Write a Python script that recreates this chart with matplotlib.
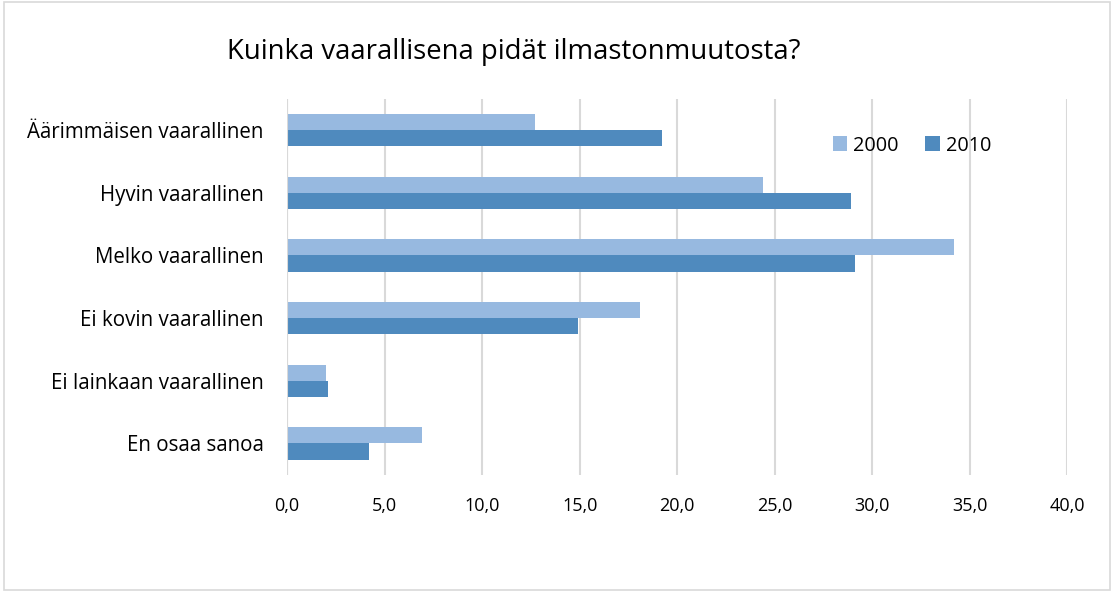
import numpy as np
import matplotlib
matplotlib.use("Agg")
import matplotlib.pyplot as plt
from matplotlib.patches import Rectangle

plt.rcParams['font.family'] = ['Open Sans', 'DejaVu Sans']

# Datos
categorias = ["Äärimmäisen vaarallinen", "Hyvin vaarallinen", "Melko vaarallinen",
              "Ei kovin vaarallinen", "Ei lainkaan vaarallinen", "En osaa sanoa"]
vuosi_2000 = [12.7, 24.4, 34.2, 18.1, 2.0, 6.9]
vuosi_2010 = [19.2, 28.9, 29.1, 14.9, 2.1, 4.2]
x_ticks = [0, 5, 10, 15, 20, 25, 30, 35, 40]

color_2000 = "#97B9E0"
color_2010 = "#4F8ABE"

fig = plt.figure(figsize=(11.13, 5.92), dpi=100)
ax = fig.add_axes([0.258, 0.198, 0.701, 0.635])

# Posiciones de las categorias (de arriba abajo)
y = np.arange(len(categorias))
h = 0.26
ax.barh(y - h / 2, vuosi_2000, height=h, color=color_2000, label="2000", zorder=3)
ax.barh(y + h / 2, vuosi_2010, height=h, color=color_2010, label="2010", zorder=3)

ax.set_ylim(len(categorias) - 0.5, -0.5)
ax.set_xlim(0, 40)
ax.set_yticks(y)
ax.set_yticklabels(categorias, fontsize=14.8)
ax.set_xticks(x_ticks)
ax.set_xticklabels([f"{v:.1f}".replace(".", ",") for v in x_ticks], fontsize=13)
ax.tick_params(axis='y', length=0, pad=17)
ax.tick_params(axis='x', length=0, pad=16)

ax.grid(axis='x', color="#D9D9D9", linewidth=1.5, zorder=0)
for s in ax.spines.values():
    s.set_visible(False)
ax.axvline(0, color="#D9D9D9", linewidth=1.5, zorder=4)

ax.legend(loc="upper right", bbox_to_anchor=(0.925, 0.95), ncol=2, frameon=False,
          fontsize=14.3, handlelength=0.75, handleheight=0.75, columnspacing=1.3,
          handletextpad=0.3)

fig.text(0.462, 0.912, "Kuinka vaarallisena pidät ilmastonmuutosta?",
         ha="center", va="center", fontsize=19.8)

# Borde del grafico
fig.patches.append(Rectangle((0.004, 0.004), 0.993, 0.992, transform=fig.transFigure,
                             fill=False, edgecolor="#D9D9D9", linewidth=1.2))

fig.savefig("out.png", dpi=100)
